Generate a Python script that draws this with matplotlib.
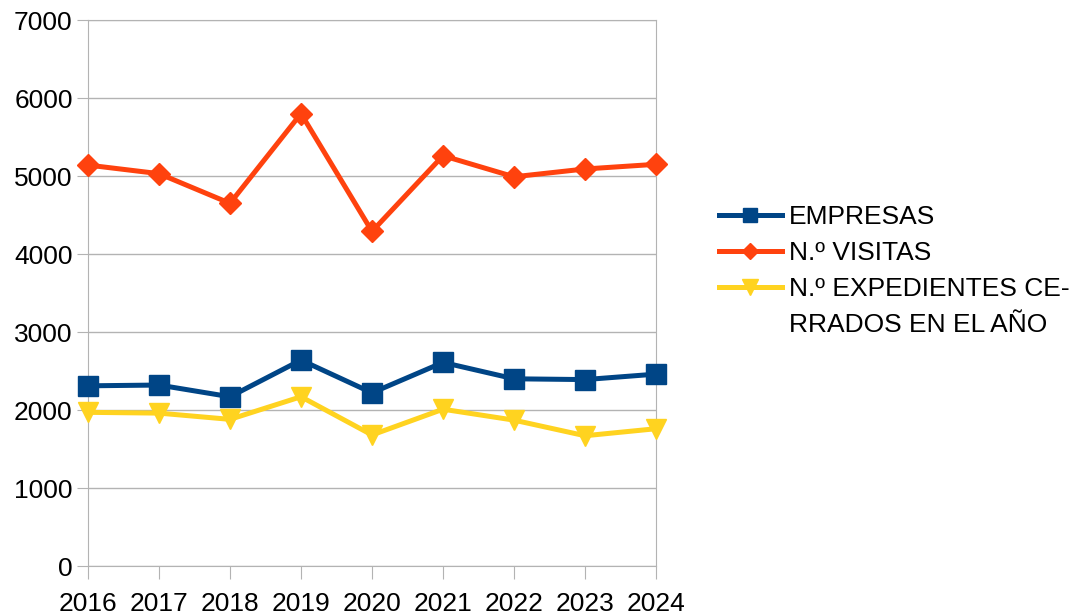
import matplotlib.pyplot as plt
from matplotlib.lines import Line2D

plt.rcParams['font.family'] = ['Liberation Sans', 'DejaVu Sans']

anios = [2016, 2017, 2018, 2019, 2020, 2021, 2022, 2023, 2024]
empresas = [2310, 2320, 2170, 2640, 2220, 2610, 2400, 2390, 2460]
visitas = [5140, 5030, 4650, 5800, 4290, 5260, 4990, 5090, 5150]
expedientes = [1970, 1960, 1880, 2170, 1680, 2010, 1870, 1670, 1760]
etiquetas = ['EMPRESAS', 'N.º VISITAS', 'N.º EXPEDIENTES CE-\nRRADOS EN EL AÑO']

gris = '#b3b3b3'

fig = plt.figure(figsize=(10.72, 6.16), dpi=100)
ax = fig.add_axes([88 / 1072, 50 / 616, 568 / 1072, 546 / 616])

l1, = ax.plot(anios, empresas, color='#004586', lw=3.6, marker='s', markersize=14,
              clip_on=False, zorder=3)
l2, = ax.plot(anios, visitas, color='#ff420e', lw=3.6, marker='D', markersize=11,
              clip_on=False, zorder=3)
l3, = ax.plot(anios, expedientes, color='#ffd320', lw=3.6, marker='v', markersize=15,
              clip_on=False, zorder=3)

ax.set_xlim(2016, 2024)
ax.set_ylim(0, 7000)
ax.set_xticks(anios)
ax.set_yticks(range(0, 7001, 1000))
ax.grid(axis='y', color=gris, lw=1)
ax.set_axisbelow(True)
for s in ax.spines.values():
    s.set_color(gris)
ax.tick_params(axis='x', length=9, color=gris, labelsize=19, pad=10)
ax.tick_params(axis='y', length=8, color=gris, labelsize=19, pad=3)

# la etiqueta larga va partida: la segunda línea sin marcador
linea1, linea2 = etiquetas[2].split('\n')
vacio = Line2D([], [], color='none')
ax.legend([l1, l2, l3, vacio], [etiquetas[0], etiquetas[1], linea1, linea2],
          loc='center left', bbox_to_anchor=(1.092, 0.54), frameon=False,
          fontsize=19, handlelength=2.4, handletextpad=0.25, labelspacing=0.45,
          markerscale=0.75, borderaxespad=0)

fig.savefig('out.png', dpi=100)
